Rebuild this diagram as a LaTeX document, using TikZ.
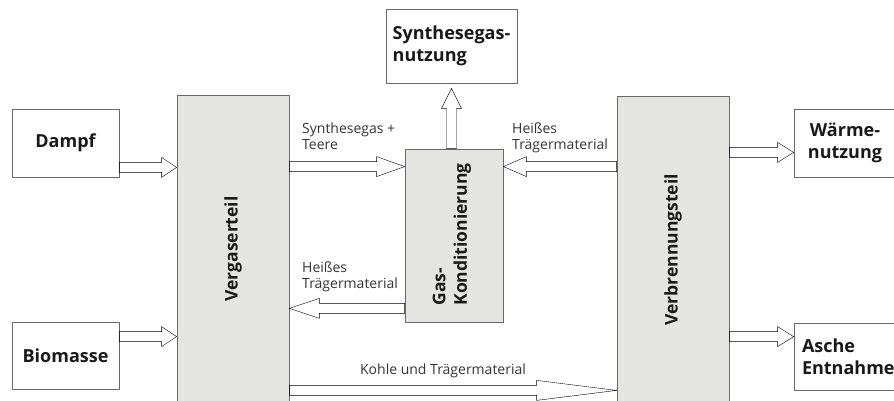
\documentclass[tikz,border=0pt]{standalone}
\usepackage{fontspec}
\setmainfont{Open Sans}
\usetikzlibrary{calc}

\definecolor{kastengrau}{RGB}{228,228,226}
\definecolor{liniengrau}{RGB}{105,105,105}

\tikzset{
  kasten/.style={draw=liniengrau, line width=0.8pt, fill=white, inner sep=0pt,
    text=black!90, font=\bfseries\fontsize{18}{21.5}\selectfont, align=center},
  teil/.style={kasten, fill=kastengrau},
  hochtext/.style={rotate=90, inner sep=0pt, text=black!90,
    font=\bfseries\fontsize{17.5}{21.5}\selectfont, align=left},
  strom/.style={inner sep=0pt, text=black!80, font=\fontsize{14}{15.7}\selectfont,
    align=left, anchor=north west},
  % Blockpfeil: Schaft 10pt breit, Spitze 20pt breit, Spitzenlaenge = #1
  pfeil/.style={draw=liniengrau, fill=white, line width=0.6pt,
    to path={($(\tikztostart)!5pt!90:(\tikztotarget)$)
      -- ($(\tikztotarget)!#1!(\tikztostart)!5pt!90:(\tikztotarget)$)
      -- ($(\tikztotarget)!#1!(\tikztostart)!10pt!90:(\tikztotarget)$)
      -- (\tikztotarget)
      -- ($(\tikztotarget)!#1!(\tikztostart)!10pt!-90:(\tikztotarget)$)
      -- ($(\tikztotarget)!#1!(\tikztostart)!5pt!-90:(\tikztotarget)$)
      -- ($(\tikztostart)!5pt!-90:(\tikztotarget)$) -- cycle}},
  pfeil/.default=15pt
}

\begin{document}
\begin{tikzpicture}[x=1pt, y=-1pt]
  \clip (0,0) rectangle (894,401);

  %Eingaenge
  \node[kasten, minimum width=107pt, minimum height=68pt] (dampf) at (65.5,143) {Dampf};
  \node[kasten, minimum width=107pt, minimum height=67pt] (biomasse) at (65.5,355.5) {Biomasse};

  %Reaktorteile
  \node[teil, minimum width=112pt, minimum height=308pt] (verg) at (233,249) {};
  \node[hochtext] (vergtxt) at (verg) {Vergaserteil};
  \node[teil, minimum width=112pt, minimum height=308pt] (verb) at (673,250) {};
  \node[hochtext] (verbtxt) at (verb) {Verbrennungsteil};
  \node[teil, minimum width=98pt, minimum height=173pt] (gask) at (454,235.5) {};
  \node[hochtext] (gasktxt) at ($(gask)+(-2,-1)$) {Gas-\\Konditionierung};

  %Ausgaenge
  \node[kasten, align=left, minimum width=131pt, minimum height=74pt] (syn) at (451.5,46) {Synthesegas-\\nutzung};
  \node[kasten, text width=86pt, inner xsep=8pt, minimum height=68pt] (waerme) at (845,143) {Wärme-\\nutzung};
  \node[kasten, align=left, text width=86pt, inner xsep=8pt, minimum height=67pt] (asche) at (845,356.5) {Asche\\Entnahme};

  %Anschlusspunkte
  \coordinate (dampfaus) at ($(dampf.south east)+(0,-10)$);
  \coordinate (biomaus) at ($(biomasse.north east)+(0,15)$);
  \coordinate (gasein) at ($(gask.north west)+(0,18)$);
  \coordinate (gasaus) at ($(gask.south west)+(0,-14)$);
  \coordinate (synein) at ($(syn.south)+(0,5)$);
  \coordinate (kohle) at ($(verg.south east)+(0,-13)$);
  \coordinate (waermeein) at ($(waerme.south west)+(0,-25)$);
  \coordinate (ascheein) at ($(asche.north west)+(0,14)$);

  %Stroeme
  \draw (dampfaus) to[pfeil] (dampfaus -| verg.west);
  \draw (biomaus) to[pfeil] (biomaus -| verg.west);
  \draw (gasein -| verg.east) to[pfeil=28pt] (gasein);
  \draw (gasein -| verb.west) to[pfeil=23pt] (gasein -| gask.east);
  \draw (synein |- gask.north) to[pfeil=20pt] (synein);
  \draw (gasaus) to[pfeil=30pt] (gasaus -| verg.east);
  \draw (kohle) to[pfeil=80pt] (kohle -| verb.west);
  \draw (waermeein -| verb.east) to[pfeil=16pt] (waermeein);
  \draw (ascheein -| verb.east) to[pfeil=16pt] (ascheein);

  %Beschriftung
  \node[strom] (syntxt) at (302,123) {Synthesegas +\\Teere};
  \node[strom] (heisstxt) at (512,123) {Heißes\\Trägermaterial};
  \node[strom] (heisstxtb) at (302,262) {Heißes\\Trägermaterial};
  \node[strom, anchor=base] (kohletxt) at (443,374) {Kohle und Trägermaterial};
\end{tikzpicture}
\end{document}
